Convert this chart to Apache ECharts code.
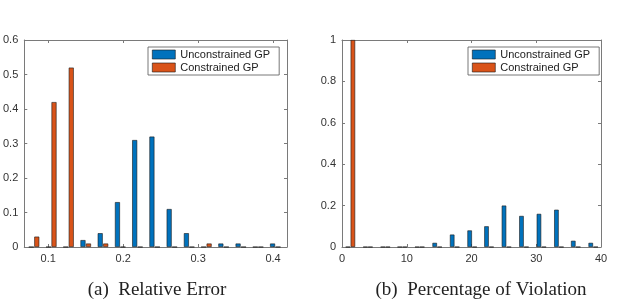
<!DOCTYPE html>
<html>
<head>
<meta charset="utf-8">
<script src="https://cdn.jsdelivr.net/npm/echarts@6/dist/echarts.min.js"></script>
<style>
html,body{margin:0;padding:0;background:#fff;}
#chart{width:640px;height:300px;}
</style>
</head>
<body>
<div id="chart"></div>
<script>
// ---- Data ----
var seriesNames = ['Unconstrained GP', 'Constrained GP'];

// (a) Relative Error : bin centers and fractions
var binsA = [0.081, 0.104, 0.127, 0.150, 0.173, 0.196, 0.219, 0.242, 0.265, 0.288, 0.311, 0.334, 0.357, 0.380, 0.403];
var unconstrainedA = [0, 0, 0, 0.02, 0.04, 0.13, 0.31, 0.32, 0.11, 0.04, 0, 0.01, 0.01, 0, 0.01];
var constrainedA   = [0.03, 0.42, 0.52, 0.01, 0.01, 0, 0, 0, 0, 0, 0.01, 0, 0, 0, 0];
var xTicksA = [0.1, 0.2, 0.3, 0.4];

// (b) Percentage of Violation : bin centers and fractions
var binsB = [1.3, 4.0, 6.7, 9.3, 12.0, 14.7, 17.4, 20.1, 22.7, 25.4, 28.1, 30.8, 33.5, 36.1, 38.8];
var unconstrainedB = [0, 0, 0, 0, 0, 0.02, 0.06, 0.08, 0.10, 0.20, 0.15, 0.16, 0.18, 0.03, 0.02];
var constrainedB   = [1.0, 0, 0, 0, 0, 0, 0, 0, 0, 0, 0, 0, 0, 0, 0];
var xTicksB = [0, 10, 20, 30, 40];

var captions = ['(a)\u2002Relative Error', '(b)\u2002Percentage of Violation'];

// ---- Build ----
function pairs(xs, ys) { return xs.map(function (x, i) { return [x, ys[i]]; }); }

var blue = '#0072BD', orange = '#D95319';
var axisColor = '#7a7a7a';
var labelStyle = { color: '#333', fontSize: 11, fontFamily: 'Liberation Sans, Arial, sans-serif' };

function xAx(grid, min, max, ticks, top) {
  return {
    type: 'value', gridIndex: grid, min: min, max: max, position: top ? 'top' : 'bottom',
    splitLine: { show: false },
    axisLine: { show: true, onZero: false, lineStyle: { color: axisColor, width: 1 } },
    axisTick: { show: true, inside: true, length: 3, customValues: ticks, lineStyle: { color: axisColor } },
    axisLabel: top ? { show: false } : Object.assign({ margin: 6, customValues: ticks }, labelStyle)
  };
}
function yAx(grid, max, interval, right) {
  return {
    type: 'value', gridIndex: grid, min: 0, max: max, interval: interval, position: right ? 'right' : 'left',
    splitLine: { show: false },
    axisLine: { show: true, onZero: false, lineStyle: { color: axisColor, width: 1 } },
    axisTick: { show: true, inside: true, length: 3, lineStyle: { color: axisColor } },
    axisLabel: right ? { show: false } : Object.assign({ margin: 6 }, labelStyle)
  };
}
function barSeries(name, data, xi, yi, color, w) {
  return {
    type: 'bar', name: name, data: data, xAxisIndex: xi, yAxisIndex: yi,
    barWidth: w, barGap: '10%',
    itemStyle: { color: color, borderColor: '#1a1a1a', borderWidth: 0.6 },
    emphasis: { disabled: true }, animation: false
  };
}
function legendAt(left) {
  return {
    left: left, top: 47, orient: 'vertical',
    data: seriesNames,
    itemWidth: 23, itemHeight: 9, itemGap: 0,
    icon: 'rect',
    backgroundColor: '#fff',
    borderColor: '#555', borderWidth: 0.8, borderRadius: 0,
    padding: [1, 9, 1, 4],
    selectedMode: false,
    textStyle: { color: '#222', fontSize: 11, lineHeight: 13, fontFamily: 'Liberation Sans, Arial, sans-serif' },
    itemStyle: { borderColor: '#1a1a1a', borderWidth: 0.6 }
  };
}
var captionStyle = { fontFamily: 'Liberation Serif, Times New Roman, serif', fontSize: 19, fontWeight: 'normal', color: '#222' };

var option = {
  backgroundColor: '#fff',
  animation: false,
  grid: [
    { left: 23, top: 40, width: 264, height: 207 },
    { left: 342, top: 40, width: 259, height: 207 }
  ],
  xAxis: [
    xAx(0, 0.068, 0.4186, xTicksA, false),
    xAx(0, 0.068, 0.4186, xTicksA, true),
    xAx(1, 0, 40, xTicksB, false),
    xAx(1, 0, 40, xTicksB, true)
  ],
  yAxis: [
    yAx(0, 0.6, 0.1, false),
    yAx(0, 0.6, 0.1, true),
    yAx(1, 1, 0.2, false),
    yAx(1, 1, 0.2, true)
  ],
  legend: [legendAt(148), legendAt(468)],
  title: [
    { text: captions[0], left: 152, top: 276, textAlign: 'center', textStyle: captionStyle },
    { text: captions[1], left: 476, top: 276, textAlign: 'center', textStyle: captionStyle }
  ],
  series: [
    barSeries(seriesNames[0], pairs(binsA, unconstrainedA), 0, 0, blue, 5),
    barSeries(seriesNames[1], pairs(binsA, constrainedA), 0, 0, orange, 5),
    barSeries(seriesNames[0], pairs(binsB, unconstrainedB), 2, 2, blue, 4.5),
    barSeries(seriesNames[1], pairs(binsB, constrainedB), 2, 2, orange, 4.5)
  ]
};

var chart = echarts.init(document.getElementById('chart'), null, { renderer: 'canvas' });
chart.setOption(option);
</script>
</body>
</html>
